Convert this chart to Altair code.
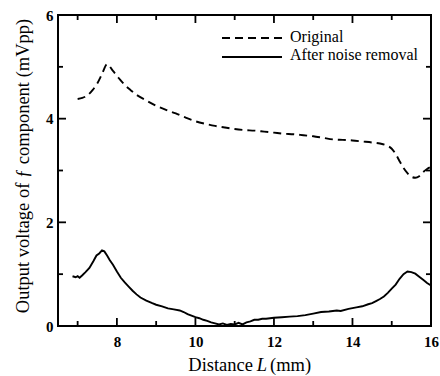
import altair as alt
import pandas as pd

# ---- data ----
orig_L = [7.0, 7.12, 7.25, 7.38, 7.5, 7.62, 7.75, 7.9, 8.05, 8.2, 8.35, 8.5, 8.75, 9.0, 9.25, 9.5, 9.75,
          10.0, 10.25, 10.5, 10.75, 11.0, 11.25, 11.5, 11.75, 12.0, 12.25, 12.5, 12.75, 13.0, 13.25, 13.5,
          13.75, 14.0, 14.25, 14.5, 14.7, 14.85, 15.0, 15.1, 15.2, 15.3, 15.4, 15.5, 15.6, 15.7, 15.8, 15.9, 16.0]
orig_V = [4.38, 4.40, 4.45, 4.55, 4.68, 4.86, 5.05, 4.92, 4.78, 4.65, 4.55, 4.46, 4.35, 4.25, 4.17, 4.10, 4.02,
          3.95, 3.90, 3.86, 3.83, 3.80, 3.78, 3.77, 3.75, 3.73, 3.71, 3.70, 3.68, 3.66, 3.63, 3.60,
          3.59, 3.58, 3.56, 3.54, 3.52, 3.49, 3.42, 3.32, 3.18, 3.05, 2.95, 2.88, 2.86, 2.89, 2.97, 3.03, 3.07]

clean_L = [6.87, 6.95, 7.0, 7.05, 7.12, 7.2, 7.3, 7.4, 7.48, 7.55, 7.62, 7.68, 7.75, 7.82, 7.9, 8.0, 8.1,
           8.2, 8.3, 8.4, 8.5, 8.6, 8.75, 8.9, 9.0, 9.15, 9.3, 9.45, 9.6, 9.7, 9.8, 9.9, 10.0, 10.1, 10.2,
           10.3, 10.4, 10.5, 10.6, 10.7, 10.8, 10.9, 11.0, 11.1, 11.2, 11.3, 11.4, 11.5, 11.6, 11.7, 11.8,
           12.0, 12.2, 12.4, 12.6, 12.8, 13.0, 13.2, 13.4, 13.6, 13.7, 13.9, 14.1, 14.25, 14.4, 14.5, 14.6,
           14.7, 14.8, 14.9, 15.0, 15.1, 15.2, 15.3, 15.4, 15.5, 15.6, 15.7, 15.8, 15.9, 16.0]
clean_V = [0.96, 0.94, 0.96, 0.93, 0.98, 1.04, 1.12, 1.25, 1.36, 1.40, 1.46, 1.44, 1.36, 1.27, 1.18, 1.05, 0.93,
           0.84, 0.76, 0.68, 0.61, 0.55, 0.49, 0.44, 0.41, 0.38, 0.34, 0.32, 0.30, 0.27, 0.23, 0.20, 0.17, 0.15, 0.12,
           0.10, 0.07, 0.05, 0.03, 0.05, 0.02, 0.04, 0.03, 0.06, 0.03, 0.07, 0.09, 0.12, 0.12, 0.14, 0.14,
           0.16, 0.17, 0.18, 0.19, 0.21, 0.24, 0.27, 0.28, 0.30, 0.29, 0.33, 0.36, 0.38, 0.42, 0.44, 0.48,
           0.52, 0.57, 0.64, 0.72, 0.80, 0.91, 1.00, 1.05, 1.04, 1.01, 0.95, 0.89, 0.83, 0.78]

x_labels = [8, 10, 12, 14, 16]
x_minor = [7, 9, 11, 13, 15]
y_labels = [0, 2, 4, 6]
y_minor = [1, 3, 5]
legend_names = ["Original", "After noise removal"]

FONT = "Liberation Serif"
W, H = 373, 311

xs = alt.Scale(domain=[6.5, 16], nice=False, zero=False)
ys = alt.Scale(domain=[0, 6], nice=False)

orig_df = pd.DataFrame({"L": orig_L, "V": orig_V})
clean_df = pd.DataFrame({"L": clean_L, "V": clean_V})

x_axis = alt.Axis(values=x_labels, ticks=False, domain=False, grid=False, labelFont=FONT,
                  labelFontSize=15, labelFontWeight="bold", labelColor="black", labelPadding=8,
                  labelFlush=False, title=None, format="d")
y_axis = alt.Axis(values=y_labels, ticks=False, domain=False, grid=False, labelFont=FONT,
                  labelFontSize=15, labelFontWeight="bold", labelColor="black", labelPadding=5,
                  title=None, format="d")

X = alt.X("L:Q", scale=xs, axis=x_axis)
Y = alt.Y("V:Q", scale=ys, axis=y_axis)

orig_line = alt.Chart(orig_df).mark_line(color="black", strokeWidth=1.9, strokeDash=[8, 5],
                                         interpolate="monotone").encode(x=X, y=Y)
clean_line = alt.Chart(clean_df).mark_line(color="black", strokeWidth=1.9).encode(x=X, y=Y)

# inward ticks on all four sides
def xticks(vals, length):
    df = pd.DataFrame({"L": vals})
    bot = alt.Chart(df).mark_rule(color="black", strokeWidth=1.8).encode(
        x=X, y=alt.value(H), y2=alt.value(H - length))
    top = alt.Chart(df).mark_rule(color="black", strokeWidth=1.8).encode(
        x=X, y=alt.value(0), y2=alt.value(length))
    return [bot, top]

def yticks(vals, length):
    df = pd.DataFrame({"V": vals})
    left = alt.Chart(df).mark_rule(color="black", strokeWidth=1.8).encode(
        y=Y, x=alt.value(0), x2=alt.value(length))
    right = alt.Chart(df).mark_rule(color="black", strokeWidth=1.8).encode(
        y=Y, x=alt.value(W), x2=alt.value(W - length))
    return [left, right]

tick_layers = xticks(x_labels, 8) + xticks(x_minor, 5) + yticks(y_labels, 8) + yticks(y_minor, 5)

one = pd.DataFrame({"a": [0]})

# legend (drawn inside the plot, top right)
leg_orig_rule = alt.Chart(one).mark_rule(color="black", strokeWidth=1.9, strokeDash=[8, 5]).encode(
    x=alt.value(164), x2=alt.value(224), y=alt.value(23))
leg_clean_rule = alt.Chart(one).mark_rule(color="black", strokeWidth=1.9).encode(
    x=alt.value(164), x2=alt.value(224), y=alt.value(42))
leg_orig_text = alt.Chart(one).mark_text(font=FONT, fontSize=16, align="left", baseline="middle",
                                         color="black", text=legend_names[0]).encode(
    x=alt.value(232), y=alt.value(22))
leg_clean_text = alt.Chart(one).mark_text(font=FONT, fontSize=16, align="left", baseline="middle",
                                          color="black", text=legend_names[1]).encode(
    x=alt.value(232), y=alt.value(40))

# axis titles
xt1 = alt.Chart(one).mark_text(font=FONT, fontSize=18.5, align="right", baseline="alphabetic",
                               color="black", text="Distance").encode(x=alt.value(195), y=alt.value(356))
xt2 = alt.Chart(one).mark_text(font=FONT, fontSize=18.5, fontStyle="italic", align="center",
                               baseline="alphabetic", color="black", text="L").encode(
    x=alt.value(204), y=alt.value(356))
xt3 = alt.Chart(one).mark_text(font=FONT, fontSize=18.5, align="left", baseline="alphabetic",
                               color="black", text="(mm)").encode(x=alt.value(212), y=alt.value(356))
yt = alt.Chart(one).mark_text(font=FONT, fontSize=18.5, align="center", baseline="middle", angle=270,
                              color="black", text="Output voltage of ƒ component (mVpp)").encode(
    x=alt.value(-35), y=alt.value(151))

chart = alt.layer(
    orig_line, clean_line, *tick_layers,
    leg_orig_rule, leg_clean_rule, leg_orig_text, leg_clean_text,
    xt1, xt2, xt3, yt,
).properties(
    width=W, height=H,
    autosize=alt.AutoSizeParams(type="none"),
    padding={"left": 58, "top": 15, "right": 9, "bottom": 50},
    background="white",
).configure_view(stroke="black", strokeWidth=2)

chart.save("out.html", embed_options={"renderer": "svg", "actions": False})
